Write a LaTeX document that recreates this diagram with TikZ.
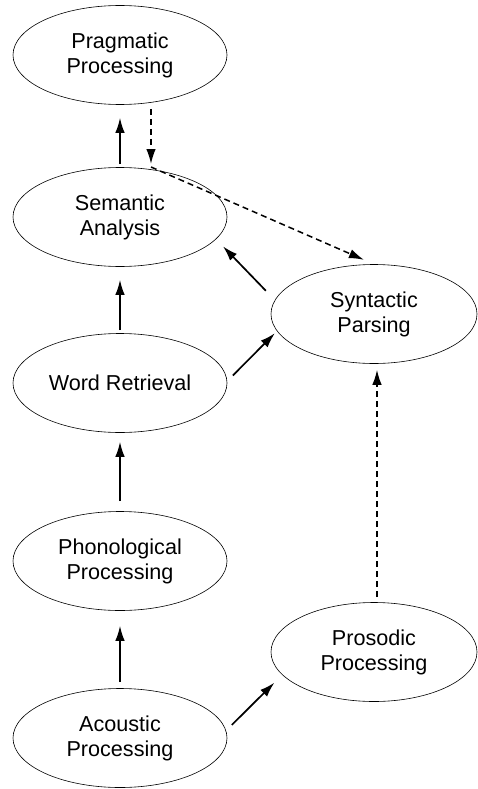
\documentclass[tikz,border=0pt]{standalone}
\usepackage{fontspec}
\setmainfont{Liberation Sans}
\usetikzlibrary{shapes.geometric,arrows.meta}

\begin{document}
\begin{tikzpicture}[x=1pt,y=-1pt,
  proc/.style={draw,ellipse,line width=0.6pt,minimum width=214pt,minimum height=99pt,inner sep=0pt,align=center,font=\fontsize{21.6}{25}\selectfont},
  arr/.style={line width=1.7pt,-{Latex[length=15pt,width=9.5pt]}},
  darr/.style={arr,line width=1.5pt,dash pattern=on 6pt off 4pt}]
\useasboundingbox (0,0) rectangle (477,789);

\node[proc] (prag) at (120,55) {Pragmatic\\Processing};
\node[proc] (sem) at (120,217) {Semantic\\Analysis};
\node[proc] (word) at (120,383) {Word Retrieval};
\node[proc] (phon) at (120,561) {Phonological\\Processing};
\node[proc] (acou) at (120,738) {Acoustic\\Processing};
\node[proc,minimum width=206pt] (synt) at (374,314) {Syntactic\\Parsing};
\node[proc,minimum width=206pt] (pros) at (374,652) {Prosodic\\Processing};

\draw[arr,shorten <=6pt,shorten >=15pt] (acou) -- (phon);
\draw[arr,shorten <=10pt,shorten >=9pt] (phon) -- (word);
\draw[arr,shorten <=3pt,shorten >=13pt] (word) -- (sem);
\draw[arr,shorten <=3pt,shorten >=13pt] (sem) -- (prag);

\draw[arr,shorten <=8pt,shorten >=3pt] (word.1) -- (synt.190);
\draw[arr,shorten <=13pt,shorten >=10pt] (synt.172) -- (sem.-13);
\draw[arr,shorten <=8pt,shorten >=11pt] (acou.4) -- (pros.194);

\coordinate (bend) at (151,164);
\draw[darr,shorten <=4pt] (prag.south -| bend) -- (bend);
\draw[darr,shorten >=11pt] ([yshift=-3pt]bend) -- (synt.north);
\draw[darr,shorten <=5pt,shorten >=6pt] ([xshift=3pt]pros.north) -- ([xshift=3pt]synt.south);
\end{tikzpicture}
\end{document}
